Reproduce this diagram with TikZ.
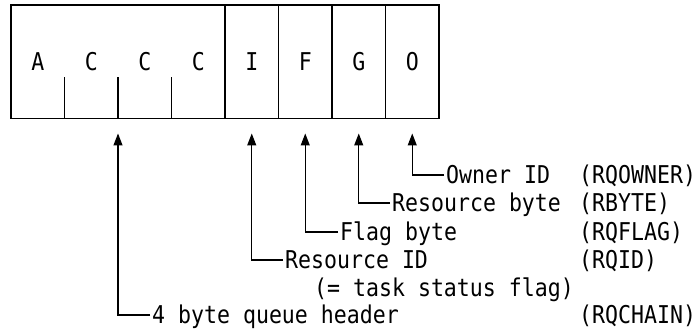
\documentclass[tikz,border=0pt]{standalone}
\usepackage{fontspec}
\setmonofont[FakeStretch=0.88]{DejaVu Sans Mono}
\usetikzlibrary{arrows.meta}
\begin{document}
\begin{tikzpicture}[x=1pt,y=1pt,
  txt/.style={font=\ttfamily\fontsize{24.5}{28}\selectfont},
  cell/.style={txt,minimum height=113.5pt,minimum width=53.5pt,inner sep=0pt,outer sep=0pt,anchor=north west},
  framed/.style={draw,line width=1.5pt},
  lbl/.style={txt,anchor=west,inner xsep=2pt,inner ysep=0pt,text height=17.8pt,text depth=0pt},
  conn/.style={line width=1.2pt,-{Triangle[width=9pt,length=12pt]}}]
\useasboundingbox (0,0) rectangle (697,331);
% cells
\node[cell] (cA)  at (11,326) {A};
\node[cell] (cC1) at (cA.north east) {C};
\node[cell] (cC2) at (cC1.north east) {C};
\node[cell] (cC3) at (cC2.north east) {C};
\node[cell,framed] (cI) at (cC3.north east) {I};
\node[cell,framed] (cF) at (cI.north east) {F};
\node[cell,framed] (cG) at (cF.north east) {G};
\node[cell,framed] (cO) at (cG.north east) {O};
\draw[line width=1.5pt] (cA.north west) rectangle (cC3.south east);
\foreach \c in {cA,cC1,cC2}{\draw[line width=1.5pt] (\c.south east) -- ++(0,41);}
% labels
\node[lbl] (lO) at (444,156) {Owner ID};
\node[lbl] (lG) at (390,128) {Resource byte};
\node[lbl] (lF) at (338,99) {Flag byte};
\node[lbl] (lI) at (283,71) {Resource ID};
\node[lbl] (lI2) at (312,43) {(= task status flag)};
\node[lbl] (lH) at (150,16) {4 byte queue header};
\node[lbl] (rO) at (577,156) {(RQOWNER)};
\node[lbl] (rG) at (577,128) {(RBYTE)};
\node[lbl] (rF) at (577,99) {(RQFLAG)};
\node[lbl] (rI) at (577,71) {(RQID)};
\node[lbl] (rH) at (577,16) {(RQCHAIN)};
% connectors
\draw[conn] (lO.west) -| ([yshift=-15pt]cO.south);
\draw[conn] (lG.west) -| ([yshift=-15pt]cG.south);
\draw[conn] (lF.west) -| ([yshift=-15pt]cF.south);
\draw[conn] (lI.west) -| ([yshift=-15pt]cI.south);
\draw[conn] (lH.west) -| ([yshift=-15pt]cC1.south east);
\end{tikzpicture}
\end{document}
